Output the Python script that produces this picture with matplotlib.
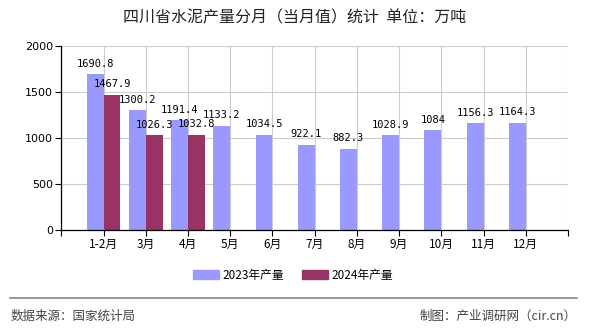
import numpy as np
import matplotlib
matplotlib.use("Agg")
import matplotlib.pyplot as plt
from matplotlib.patches import Patch
from matplotlib.lines import Line2D

plt.rcParams['font.family'] = ['Noto Sans CJK SC', 'DejaVu Sans']

months = ["1-2月", "3月", "4月", "5月", "6月", "7月", "8月", "9月", "10月", "11月", "12月"]
prod_2023 = [1690.8, 1300.2, 1191.4, 1133.2, 1034.5, 922.1, 882.3, 1028.9, 1084, 1156.3, 1164.3]
prod_2024 = [1467.9, 1026.3, 1032.8]
series_names = ["2023年产量", "2024年产量"]
yticks = [0, 500, 1000, 1500, 2000]

C23 = "#9999ff"
C24 = "#993366"

fig = plt.figure(figsize=(5.9, 3.3), dpi=100)
ax = fig.add_axes([0.1039, 0.303, 0.8588, 0.5585])

x23 = np.arange(len(prod_2023))
x24 = np.arange(len(prod_2024))
w = 0.4
ax.bar(x23, prod_2023, width=-w, align="edge", color=C23, zorder=2)
ax.bar(x24, prod_2024, width=w, align="edge", color=C24, zorder=2)

lab_font = dict(family="DejaVu Sans Mono", fontsize=7.5, color="black")
for xi, v in zip(x23, prod_2023):
    ax.annotate(f"{v:g}", (xi - w / 2, v), xytext=(0, 4), textcoords="offset points",
                ha="center", va="bottom", zorder=3, **lab_font)
for xi, v in zip(x24, prod_2024):
    ax.annotate(f"{v:g}", (xi + w / 2, v), xytext=(0, 4), textcoords="offset points",
                ha="center", va="bottom", zorder=3, **lab_font)

n = len(months)
ax.set_xlim(-1, n)
ax.set_ylim(0, 2000)
ax.set_xticks(np.arange(-1, n + 1))
ax.set_xticklabels([""] + months + [""], fontsize=8.5)
ax.set_yticks(yticks)
ax.set_yticklabels([str(t) for t in yticks], fontsize=8, family="DejaVu Sans")
ax.tick_params(axis="both", direction="out", length=4, width=0.8, color="black", pad=2)
ax.grid(True, color="#cccccc", linewidth=0.8, zorder=0)
for side in ["top", "right"]:
    ax.spines[side].set_visible(False)
for side in ["left", "bottom"]:
    ax.spines[side].set_color("black")
    ax.spines[side].set_linewidth(0.9)

fig.text(0.50, 0.945, "四川省水泥产量分月（当月值）统计  单位：万吨", ha="center", va="center",
         fontsize=11.5, color="#222222")

handles = [Patch(color=C23, label=series_names[0]), Patch(color=C24, label=series_names[1])]
fig.legend(handles=handles, loc="center", bbox_to_anchor=(0.497, 0.165), ncol=2, frameon=False,
           fontsize=8.5, handlelength=2.2, handleheight=0.8, handletextpad=0.3, columnspacing=1.5)

fig.add_artist(Line2D([0.017, 0.978], [0.097, 0.097], color="#888888", linewidth=1.2))
fig.text(0.017, 0.042, "数据来源：国家统计局", ha="left", va="center", fontsize=9, color="#444444")
fig.text(0.978, 0.042, "制图：产业调研网（cir.cn）", ha="right", va="center", fontsize=9, color="#444444")

fig.savefig("out.png", dpi=100)
